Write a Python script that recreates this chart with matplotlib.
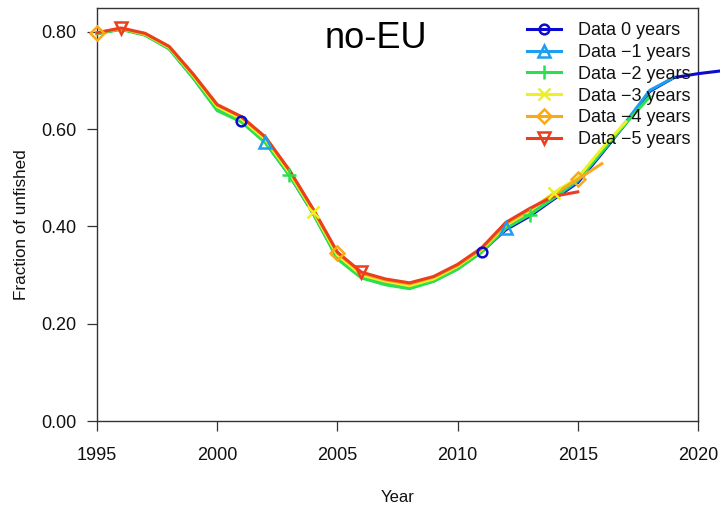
import matplotlib
matplotlib.use("Agg")
import matplotlib.pyplot as plt
from matplotlib.lines import Line2D

plt.rcParams['font.family'] = ['Liberation Sans', 'DejaVu Sans']

# Retrospective peels of spawning depletion (fraction of unfished)
yrs_base = list(range(1995, 2022))
frac_0 = [0.797, 0.806, 0.794, 0.766, 0.706, 0.640, 0.617, 0.574, 0.506, 0.426,
          0.336, 0.296, 0.282, 0.274, 0.288, 0.313, 0.348, 0.393, 0.421, 0.456,
          0.490, 0.550, 0.612, 0.678, 0.706, 0.714, 0.720]
yrs_m1 = list(range(1995, 2020))
frac_m1 = [0.797, 0.806, 0.794, 0.766, 0.707, 0.641, 0.618, 0.573, 0.506, 0.427,
           0.336, 0.296, 0.282, 0.274, 0.288, 0.314, 0.349, 0.396, 0.425, 0.458,
           0.493, 0.553, 0.615, 0.680, 0.706]
yrs_m2 = list(range(1995, 2019))
frac_m2 = [0.796, 0.805, 0.793, 0.765, 0.705, 0.638, 0.615, 0.572, 0.506, 0.426,
           0.333, 0.294, 0.280, 0.272, 0.287, 0.312, 0.347, 0.396, 0.424, 0.459,
           0.496, 0.553, 0.612, 0.667]
yrs_m3 = list(range(1995, 2018))
frac_m3 = [0.798, 0.807, 0.795, 0.768, 0.710, 0.646, 0.621, 0.579, 0.511, 0.430,
           0.341, 0.300, 0.287, 0.278, 0.292, 0.318, 0.352, 0.402, 0.432, 0.469,
           0.500, 0.560, 0.615]
yrs_m4 = list(range(1995, 2017))
frac_m4 = [0.798, 0.807, 0.796, 0.770, 0.713, 0.651, 0.625, 0.583, 0.515, 0.434,
           0.346, 0.304, 0.290, 0.282, 0.296, 0.320, 0.354, 0.405, 0.435, 0.466,
           0.497, 0.529]
yrs_m5 = list(range(1995, 2016))
frac_m5 = [0.798, 0.808, 0.797, 0.770, 0.713, 0.650, 0.626, 0.584, 0.516, 0.435,
           0.347, 0.306, 0.292, 0.284, 0.297, 0.322, 0.356, 0.408, 0.437, 0.462,
           0.471]

series_years = [yrs_base, yrs_m1, yrs_m2, yrs_m3, yrs_m4, yrs_m5]
series_vals = [frac_0, frac_m1, frac_m2, frac_m3, frac_m4, frac_m5]
labels = ["Data 0 years", "Data \u22121 years", "Data \u22122 years",
          "Data \u22123 years", "Data \u22124 years", "Data \u22125 years"]
marker_years = [[2001, 2011], [2002, 2012], [2003, 2013],
                [2004, 2014], [1995, 2005, 2015], [1996, 2006]]

colors = ["#0B0BD0", "#1E9EEE", "#2BE04E", "#ECF025", "#F7AA1C", "#EA3F1E"]
markers = ["o", "^", "+", "x", "D", "v"]
msizes = [7, 8, 10, 8, 7, 8]

fig = plt.figure(figsize=(7.2, 5.07), dpi=100)
ax = fig.add_axes([97 / 720, 1 - 421 / 507, (698 - 97) / 720, (421 - 8) / 507])

for yr, vals, col, mk, ms, myrs in zip(series_years, series_vals, colors,
                                       markers, msizes, marker_years):
    ax.plot(yr, vals, color=col, lw=2.2, solid_joinstyle='round',
            clip_on=False, zorder=3)
    mx = [y for y in myrs if y in yr]
    my = [vals[yr.index(y)] for y in mx]
    ax.plot(mx, my, linestyle='none', marker=mk, ms=ms, mew=1.8,
            mfc='none', mec=col, clip_on=False, zorder=4)

ax.set_xlim(1995, 2020)
ax.set_ylim(0, 0.849)
ax.set_xticks([1995, 2000, 2005, 2010, 2015, 2020])
ax.set_yticks([0.0, 0.2, 0.4, 0.6, 0.8])
ax.set_yticklabels(["0.00", "0.20", "0.40", "0.60", "0.80"])
ax.tick_params(axis='both', direction='out', length=7, width=0.9,
               color='#333333', labelsize=13, labelcolor='#111111')
ax.tick_params(axis='x', pad=12)
ax.tick_params(axis='y', pad=8)
for sp in ax.spines.values():
    sp.set_color('#333333')
    sp.set_linewidth(1.0)

fig.text(398 / 720, 1 - 497 / 507, "Year", ha='center', va='center',
         fontsize=12, color='#111111')
fig.text(22 / 720, 1 - 225 / 507, "Fraction of unfished", ha='center',
         va='center', rotation=90, fontsize=12.3, color='#111111')
fig.text(376 / 720, 1 - 39 / 507, "no-EU", ha='center', va='center',
         fontsize=26, color='black')

handles = [Line2D([], [], color=c, lw=2.2, marker=m, ms=s, mew=1.8,
                  mfc='none', mec=c)
           for c, m, s in zip(colors, markers, msizes)]
leg = fig.legend(handles, labels, loc='upper left',
                 bbox_to_anchor=(527 / 720, 1 - 22 / 507), frameon=False,
                 fontsize=13, handlelength=1.9, handletextpad=0.9,
                 labelspacing=0.27, borderaxespad=0, borderpad=0)
for t in leg.get_texts():
    t.set_color('#111111')

fig.savefig("out.png", dpi=100)
